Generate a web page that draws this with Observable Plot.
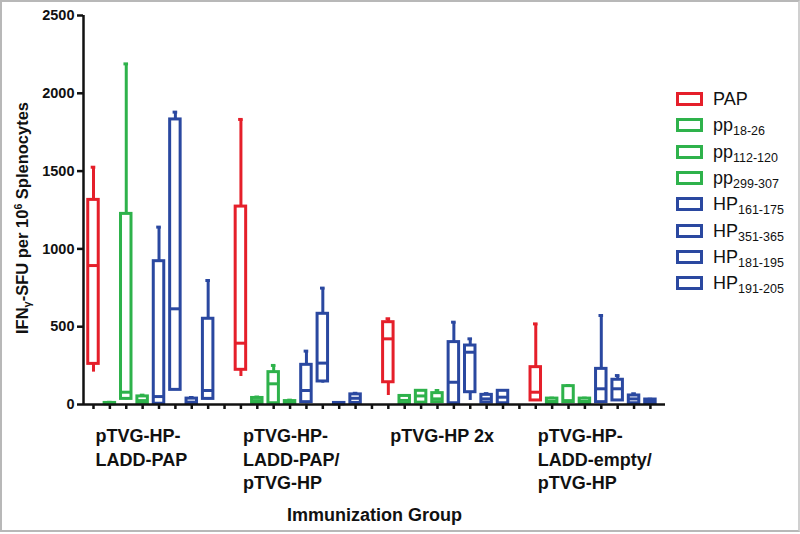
<!DOCTYPE html>
<html>
<head>
<meta charset="utf-8">
<script src="https://cdn.jsdelivr.net/npm/d3@7"></script>
<script src="https://cdn.jsdelivr.net/npm/@observablehq/plot@0.6"></script>
<style>
  html, body { margin: 0; padding: 0; background: #fff; }
  #wrap { position: relative; width: 800px; height: 534px; overflow: hidden; background: #fff; font-family: "Liberation Sans", Arial, sans-serif; }
  #frame { position: absolute; left: 0; top: 0; width: 800px; height: 532px; box-sizing: border-box; border: 2px solid #b8b8b8; border-right-color: #d0d0d0; pointer-events: none; }
  #chart { position: absolute; left: 0; top: 0; }
  #legend { position: absolute; left: 676px; top: 86px; }
  .item { position: relative; height: 26.3px; display: flex; align-items: center; }
  .sw { width: 21px; height: 8px; border: 3px solid; margin-right: 10px; background: #fff; }
  .lab { font-size: 18px; color: #111; line-height: 18px; white-space: nowrap; }
  .lab sub { font-size: 12.5px; vertical-align: -4px; line-height: 0; }
</style>
</head>
<body>
<div id="wrap">
  <div id="chart"></div>
  <div id="legend"></div>
  <div id="frame"></div>
</div>
<script>
// ---- data ----
const groups = ["pTVG-HP-\nLADD-PAP", "pTVG-HP-\nLADD-PAP/\npTVG-HP", "pTVG-HP 2x", "pTVG-HP-\nLADD-empty/\npTVG-HP"];
const pepBase = ["PAP", "pp", "pp", "pp", "HP", "HP", "HP", "HP"];
const pepSub = ["", "18-26", "112-120", "299-307", "161-175", "351-365", "181-195", "191-205"];
const pepColor = ["#e51f2a", "#2eb24b", "#2eb24b", "#2eb24b", "#2a48a0", "#2a48a0", "#2a48a0", "#2a48a0"];
const yTicks = [0, 500, 1000, 1500, 2000, 2500];

// per group: [min, q1, median, q3, max] for each of the 8 peptides
const g1 = [
  [208, 261, 893, 1315, 1525],
  [0, 2, 5, 10, 14],
  [30, 36, 79, 1225, 2189],
  [5, 10, 25, 52, 60],
  [0, 5, 51, 921, 1140],
  [90, 94, 615, 1832, 1879],
  [0, 3, 15, 38, 45],
  [30, 36, 90, 551, 797]
];
const g2 = [
  [180, 223, 394, 1272, 1832],
  [5, 8, 25, 42, 48],
  [5, 8, 133, 208, 251],
  [2, 4, 12, 22, 28],
  [5, 15, 90, 255, 343],
  [137, 148, 266, 583, 748],
  [0, 2, 5, 10, 12],
  [5, 10, 40, 65, 72]
];
const g3 = [
  [58, 143, 422, 529, 551],
  [2, 5, 26, 55, 58],
  [5, 12, 55, 88, 90],
  [10, 15, 36, 73, 90],
  [5, 8, 143, 401, 529],
  [26, 79, 336, 379, 422],
  [8, 12, 36, 62, 70],
  [5, 8, 47, 88, 90]
];
const g4 = [
  [20, 26, 79, 240, 518],
  [2, 5, 20, 38, 41],
  [10, 15, 25, 118, 122],
  [2, 5, 20, 38, 41],
  [10, 15, 101, 229, 572],
  [20, 26, 101, 159, 186],
  [5, 8, 36, 58, 69],
  [2, 5, 21, 32, 34]
];
const groupStats = [g1, g2, g3, g4];

// ---- build table ----
const slotsPerGroup = 9;
const rows = [];
groupStats.forEach((g, gi) => g.forEach((s, pi) => {
  rows.push({slot: gi * slotsPerGroup + pi, color: pepColor[pi], min: s[0], q1: s[1], med: s[2], q3: s[3], max: s[4]});
}));
const lastSlot = (groups.length - 1) * slotsPerGroup + pepBase.length - 1;
const xDomain = [-0.61, lastSlot + 0.92];
const halfBox = 0.32, halfCap = 0.14;
const groupRows = groups.map((t, i) => ({x: i * slotsPerGroup, text: t}));

const font = "Liberation Sans, Arial, sans-serif";
const plot = Plot.plot({
  width: 800, height: 534,
  marginLeft: 83, marginRight: 135, marginTop: 15, marginBottom: 130,
  style: {fontFamily: font, color: "#111", background: "transparent"},
  x: {domain: xDomain, axis: null},
  y: {domain: [0, 2500], axis: null},
  color: {type: "identity"},
  marks: [
    // whiskers
    Plot.ruleX(rows, {x: "slot", y1: "q3", y2: "max", stroke: "color", strokeWidth: 3}),
    Plot.ruleX(rows, {x: "slot", y1: "min", y2: "q1", stroke: "color", strokeWidth: 3}),
    Plot.ruleY(rows, {y: "max", x1: d => d.slot - halfCap, x2: d => d.slot + halfCap, stroke: "color", strokeWidth: 3}),
    // boxes
    Plot.rect(rows, {x1: d => d.slot - halfBox, x2: d => d.slot + halfBox, y1: "q1", y2: "q3", fill: "white", stroke: "color", strokeWidth: 3, strokeLinejoin: "miter"}),
    Plot.ruleY(rows, {y: "med", x1: d => d.slot - halfBox, x2: d => d.slot + halfBox, stroke: "color", strokeWidth: 3}),
    // axes
    Plot.axisY({ticks: yTicks, tickSize: 6, tickPadding: 3, strokeWidth: 2.5, stroke: "#111", fontSize: 14.5, fontWeight: "bold", tickFormat: d => String(d)}),
    Plot.axisX({ticks: d3.range(0, lastSlot + 1), tickSize: 5, strokeWidth: 2.5, stroke: "#111", tickFormat: () => ""}),
    Plot.ruleY([0], {stroke: "#111", strokeWidth: 2.5}),
    Plot.ruleX([xDomain[0]], {stroke: "#111", strokeWidth: 2.5}),
    // group labels
    Plot.text(groupRows, {x: "x", y: 0, text: "text", textAnchor: "start", lineAnchor: "top", dx: 2, dy: 21, fontSize: 18, fontWeight: "bold", lineHeight: 1.3, fill: "#111"}),
    Plot.text(["Immunization Group"], {frameAnchor: "bottom", dy: 116, fontSize: 18, fontWeight: "bold", fill: "#111"}),
    Plot.text(["IFNγ-SFU per 106 Splenocytes"], {frameAnchor: "left", textAnchor: "middle", rotate: -90, dx: -61, dy: 8, fontSize: 16.5, fontWeight: "bold", fill: "#111"})
  ]
});
document.getElementById("chart").appendChild(plot);

// subscript gamma / superscript 6 in y label
d3.select(plot).selectAll("text").filter(function() { return this.textContent === "IFNγ-SFU per 106 Splenocytes"; })
  .each(function() {
    const t = d3.select(this);
    t.text(null);
    t.append("tspan").text("IFN");
    t.append("tspan").attr("font-size", "11").attr("dy", "3").text("γ");
    t.append("tspan").attr("dy", "-3").text("-SFU per 10");
    t.append("tspan").attr("font-size", "10.5").attr("dy", "-6").text("6");
    t.append("tspan").attr("dy", "6").text(" Splenocytes");
  });

// legend
const leg = d3.select("#legend");
pepBase.forEach((b, i) => {
  const it = leg.append("div").attr("class", "item");
  it.append("div").attr("class", "sw").style("border-color", pepColor[i]);
  const l = it.append("div").attr("class", "lab");
  l.append("span").text(b);
  if (pepSub[i]) l.append("sub").text(pepSub[i]);
});
</script>
</body>
</html>
